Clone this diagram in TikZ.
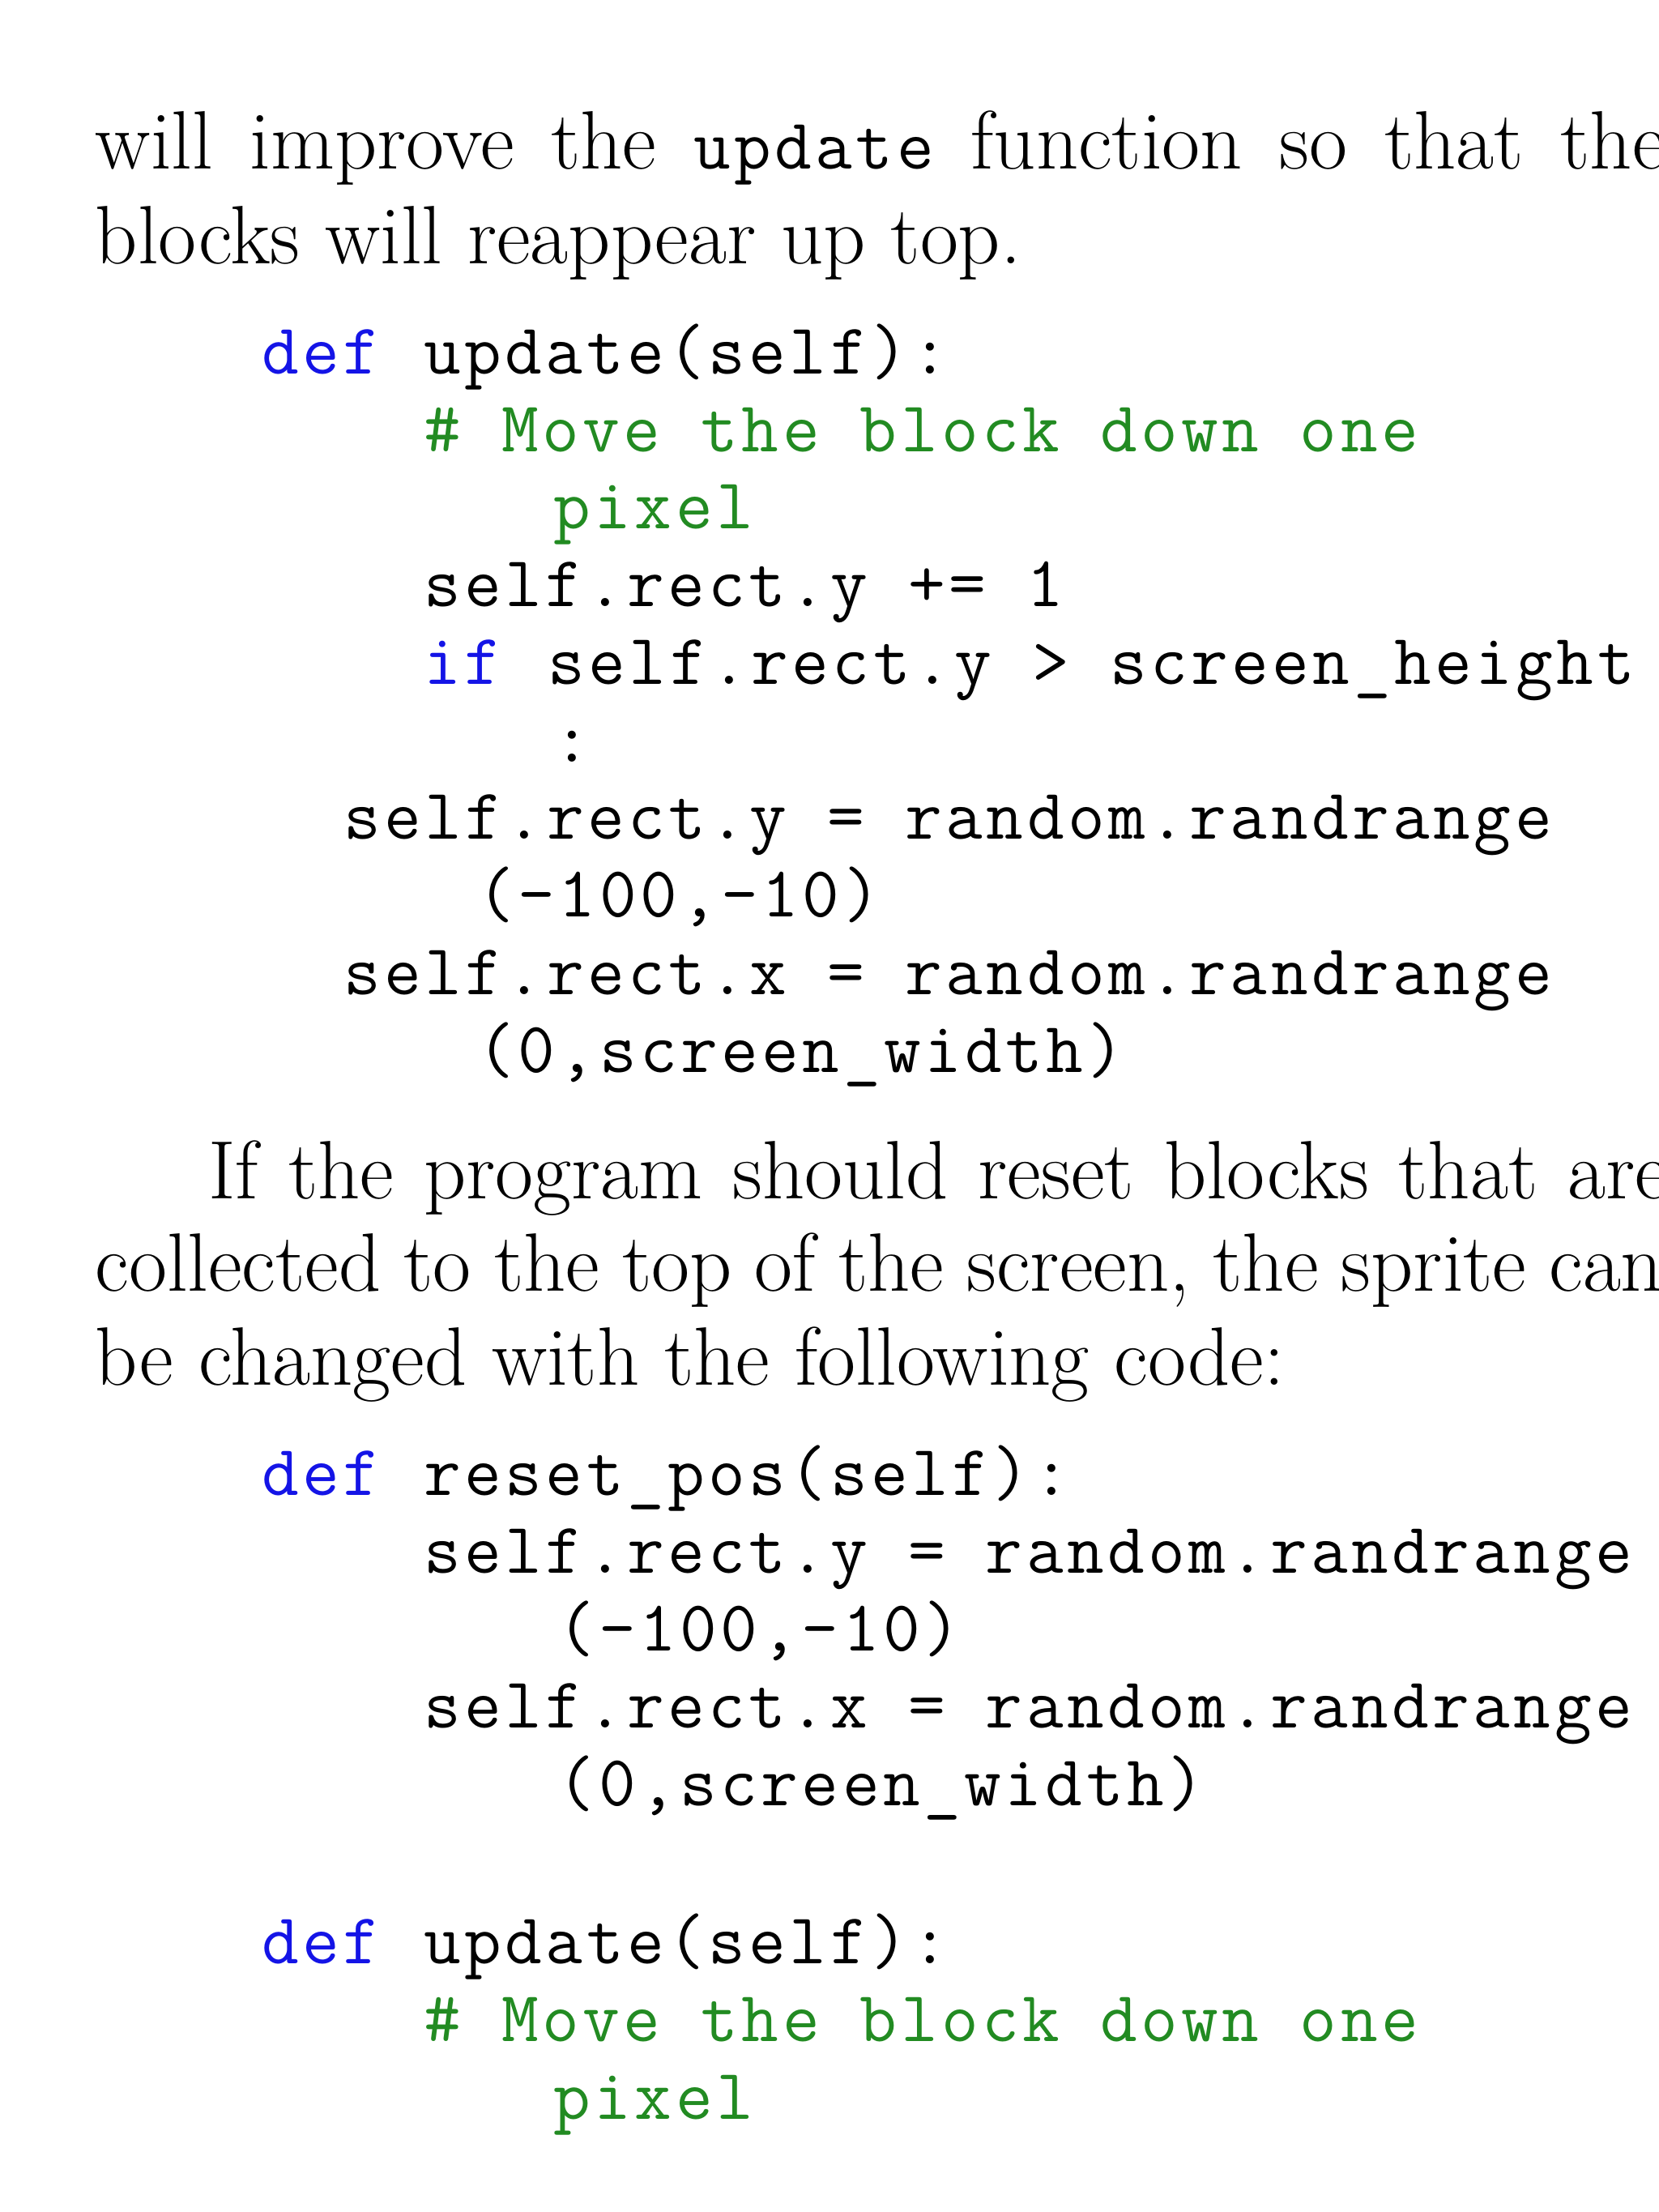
\documentclass[tikz,border=0pt]{standalone}
\usepackage{fontspec}
\newfontfamily\cd[LetterSpace=5]{Latin Modern Mono}
\definecolor{kw}{RGB}{20,20,230}
\definecolor{cm}{RGB}{34,139,34}
\begin{document}
\begin{tikzpicture}[x=0.01cm,y=-0.01cm,
  t/.style={anchor=base west,inner sep=0pt,font=\fontsize{16.7}{20}\selectfont},
  c/.style={anchor=base west,inner sep=0pt,font=\fontsize{14.5}{18}\cd},
  k/.style={c,text=kw},
  g/.style={c,text=cm}]
\useasboundingbox (0,0) rectangle (1176,1568);
\clip (0,0) rectangle (1176,1568);
\node[t] (p1) at (67,120) {\hbox to 11.13cm{will improve the {\fontsize{14.5}{18}\cd update} function so that the}};
\node[t] (p2) at (67,187) {blocks will reappear up top.};
\node[k] (a1) at (185,265) {def};
\node[c] (a2) at (300,265) {update(self):};
\node[g] (a3) at (300,320) {\# Move the block down one};
\node[g] (a4) at (392,375) {pixel};
\node[c] (a5) at (300,430) {self.rect.y += 1};
\node[k] (a6) at (300,485) {if};
\node[c] (a7) at (388,485) {self.rect.y > screen\_height};
\node[c] (a8) at (392,540) {:};
\node[c] (a9) at (243,595) {self.rect.y = random.randrange};
\node[c] (a10) at (338,650) {(-100,-10)};
\node[c] (a11) at (243,705) {self.rect.x = random.randrange};
\node[c] (a12) at (338,760) {(0,screen\_width)};
\node[t] (q1) at (147,850) {\hbox to 10.35cm{If the program should reset blocks that are}};
\node[t] (q2) at (67,915) {\hbox to 11.11cm{collected to the top of the screen, the sprite can}};
\node[t] (q3) at (67,982) {be changed with the following code:};
\node[k] (b1) at (185,1060) {def};
\node[c] (b2) at (300,1060) {reset\_pos(self):};
\node[c] (b3) at (300,1115) {self.rect.y = random.randrange};
\node[c] (b4) at (395,1170) {(-100,-10)};
\node[c] (b5) at (300,1225) {self.rect.x = random.randrange};
\node[c] (b6) at (395,1280) {(0,screen\_width)};
\node[k] (b7) at (185,1392) {def};
\node[c] (b8) at (300,1392) {update(self):};
\node[g] (b9) at (300,1447) {\# Move the block down one};
\node[g] (b10) at (392,1502) {pixel};
\end{tikzpicture}
\end{document}
